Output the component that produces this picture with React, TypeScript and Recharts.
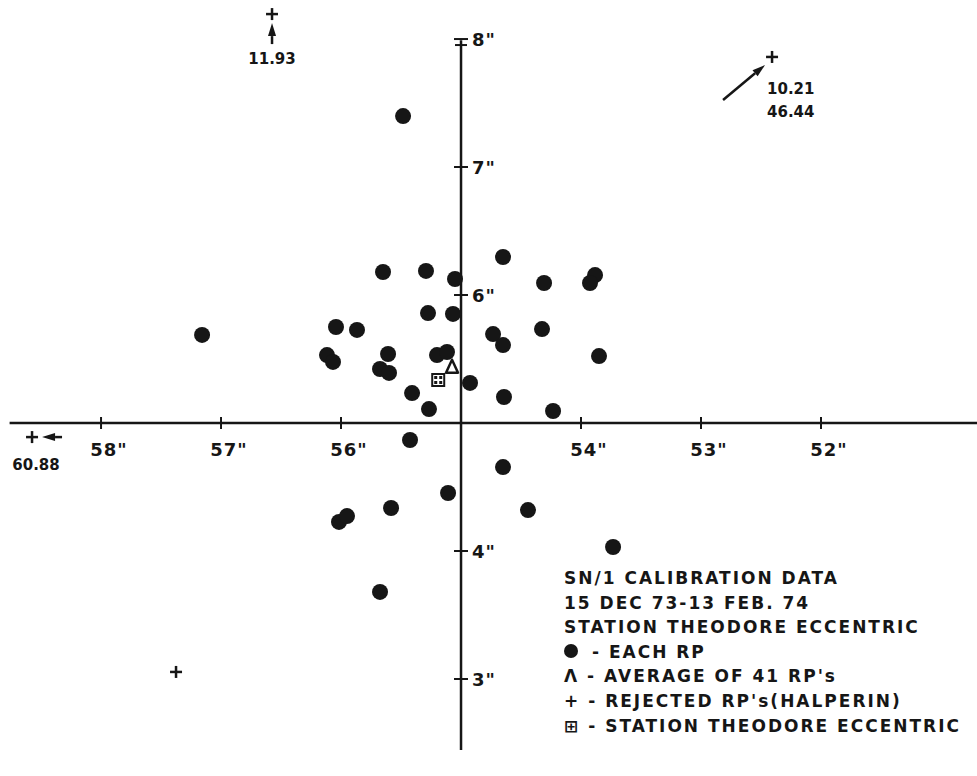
import { ReferenceDot, ReferenceLine, Scatter, ScatterChart, XAxis, YAxis } from "recharts";

// arc-second offsets, x axis runs right-to-left (58" .. 52"), y axis 3" .. 8"
const X_TICKS = [58, 57, 56, 54, 53, 52];
const Y_TICKS = [8, 7, 6, 4, 3];
const X_DOMAIN: [number, number] = [50.7, 58.842];
const Y_DOMAIN: [number, number] = [2.242, 8.305];
const AXIS_X = 55;
const AXIS_Y = 5;

const EACH_RP = [
  { x: 55.483, y: 7.398 },
  { x: 57.158, y: 5.688 },
  { x: 55.65, y: 6.18 },
  { x: 55.292, y: 6.188 },
  { x: 55.05, y: 6.125 },
  { x: 55.275, y: 5.859 },
  { x: 55.067, y: 5.852 },
  { x: 56.042, y: 5.75 },
  { x: 55.867, y: 5.727 },
  { x: 56.117, y: 5.531 },
  { x: 56.067, y: 5.477 },
  { x: 55.608, y: 5.539 },
  { x: 55.675, y: 5.422 },
  { x: 55.6, y: 5.391 },
  { x: 55.2, y: 5.531 },
  { x: 55.117, y: 5.555 },
  { x: 55.408, y: 5.234 },
  { x: 55.267, y: 5.109 },
  { x: 54.65, y: 6.297 },
  { x: 54.308, y: 6.094 },
  { x: 53.883, y: 6.156 },
  { x: 53.925, y: 6.094 },
  { x: 54.733, y: 5.695 },
  { x: 54.65, y: 5.609 },
  { x: 54.325, y: 5.734 },
  { x: 53.85, y: 5.523 },
  { x: 54.925, y: 5.313 },
  { x: 54.642, y: 5.203 },
  { x: 54.233, y: 5.094 },
  { x: 55.425, y: 4.867 },
  { x: 54.65, y: 4.656 },
  { x: 55.108, y: 4.453 },
  { x: 55.583, y: 4.336 },
  { x: 56.017, y: 4.227 },
  { x: 55.95, y: 4.273 },
  { x: 54.442, y: 4.32 },
  { x: 53.733, y: 4.031 },
  { x: 55.675, y: 3.68 },
];

const AVERAGE_RP = [{ x: 55.075, y: 5.44 }];
const STATION_ECC = [{ x: 55.19, y: 5.336 }];

// off-scale values are written next to the arrow
const REJECTED_RP = [
  { x: 56.575, y: 8.195, label: "11.93" },
  { x: 52.408, y: 7.86, label: "10.21\n46.44" },
  { x: 58.575, y: 4.89, label: "60.88" },
  { x: 57.375, y: 3.055, label: "" },
];

const LEGEND_TITLE = ["SN/1 CALIBRATION DATA", "15 DEC 73-13 FEB. 74", "STATION THEODORE ECCENTRIC"];

const INK = "#161616";
const FONT = "'DejaVu Sans', sans-serif";

const ARROWS: Record<string, { from: [number, number]; to: [number, number]; text: [number, number]; anchor: "start" | "middle" }> = {
  "11.93": { from: [0, 30], to: [0, 9], text: [0, 50], anchor: "middle" },
  "10.21\n46.44": { from: [-49, 43], to: [-7, 8], text: [-5, 37], anchor: "start" },
  "60.88": { from: [30, 0], to: [10, 0], text: [4, 33], anchor: "middle" },
};

const Dot = (p: any) => <circle cx={p.cx} cy={p.cy} r={8} fill={INK} />;

const Triangle = (p: any) => (
  <path
    d={`M${p.cx - 6},${p.cy + 6} L${p.cx},${p.cy - 7} L${p.cx + 6},${p.cy + 6} Z`}
    fill="#fff"
    stroke={INK}
    strokeWidth={2.5}
    strokeLinejoin="round"
  />
);

const Station = (p: any) => (
  <g>
    <rect x={p.cx - 6} y={p.cy - 6} width={12} height={12} fill="#fff" stroke={INK} strokeWidth={2} />
    {[-1, 1].map((i) =>
      [-1, 1].map((j) => (
        <rect key={`${i}${j}`} x={p.cx + i * 2.5 - 1.5} y={p.cy + j * 2.5 - 1.5} width={3} height={3} fill={INK} />
      ))
    )}
  </g>
);

const Rejected = (p: any) => {
  const { cx, cy, payload } = p;
  const a = ARROWS[payload.label];
  let arrow = null;
  if (a) {
    const [fx, fy] = a.from;
    const [tx, ty] = a.to;
    const len = Math.hypot(tx - fx, ty - fy);
    const ux = (tx - fx) / len;
    const uy = (ty - fy) / len;
    const bx = tx - ux * 13;
    const by = ty - uy * 13;
    arrow = (
      <g>
        <line x1={cx + fx} y1={cy + fy} x2={cx + bx} y2={cy + by} stroke={INK} strokeWidth={2.5} />
        <path
          d={`M${cx + tx},${cy + ty} L${cx + bx - uy * 4},${cy + by + ux * 4} L${cx + bx + uy * 4},${cy + by - ux * 4} Z`}
          fill={INK}
        />
        {payload.label.split("\n").map((t: string, i: number) => (
          <text
            key={t}
            x={cx + a.text[0]}
            y={cy + a.text[1] + i * 23}
            textAnchor={a.anchor}
            fontFamily={FONT}
            fontWeight="bold"
            fontSize={15}
            fill={INK}
          >
            {t}
          </text>
        ))}
      </g>
    );
  }
  return (
    <g>
      <line x1={cx - 6} y1={cy} x2={cx + 6} y2={cy} stroke={INK} strokeWidth={2.5} />
      <line x1={cx} y1={cy - 6} x2={cx} y2={cy + 6} stroke={INK} strokeWidth={2.5} />
      {arrow}
    </g>
  );
};

const XTick = (value: number) => (p: any) => (
  <g>
    <line x1={p.cx} y1={p.cy - 6} x2={p.cx} y2={p.cy + 6} stroke={INK} strokeWidth={2} />
    <text
      x={p.cx + 8}
      y={p.cy + 33}
      textAnchor="middle"
      fontFamily={FONT}
      fontWeight="bold"
      fontSize={18}
      letterSpacing={1}
      fill={INK}
    >
      {`${value}"`}
    </text>
  </g>
);

const YTick = (value: number) => (p: any) => (
  <g>
    <line x1={p.cx - 7} y1={p.cy} x2={p.cx + 7} y2={p.cy} stroke={INK} strokeWidth={2} />
    {value === 8 && <line x1={p.cx - 6} y1={p.cy + 6} x2={p.cx + 6} y2={p.cy + 6} stroke={INK} strokeWidth={2} />}
    <text x={p.cx + 11} y={p.cy + 7} fontFamily={FONT} fontWeight="bold" fontSize={18} letterSpacing={1} fill={INK}>
      {`${value}"`}
    </text>
  </g>
);

const LegendBlock = () => (
  <div
    style={{
      position: "absolute",
      left: 564,
      top: 566,
      fontFamily: FONT,
      fontWeight: "bold",
      fontSize: 17,
      lineHeight: "24.6px",
      letterSpacing: 2,
      color: INK,
      whiteSpace: "nowrap",
    }}
  >
    {LEGEND_TITLE.map((t) => (
      <div key={t}>{t}</div>
    ))}
    <div>
      <span style={{ display: "inline-block", width: 14, height: 14, borderRadius: 7, background: INK, marginRight: 6 }} /> - EACH RP
    </div>
    <div>Λ - AVERAGE OF 41 RP's</div>
    <div>+ - REJECTED RP's(HALPERIN)</div>
    <div>⊞ - STATION THEODORE ECCENTRIC</div>
  </div>
);

export default function App() {
  return (
    <div style={{ position: "absolute", left: 0, top: 0, width: 977, height: 776, background: "#fff", overflow: "hidden" }}>
      <ScatterChart width={977} height={776} margin={{ top: 0, right: 0, bottom: 0, left: 0 }}>
        <XAxis type="number" dataKey="x" domain={X_DOMAIN} reversed hide allowDataOverflow />
        <YAxis type="number" dataKey="y" domain={Y_DOMAIN} hide allowDataOverflow />
        <ReferenceLine
          segment={[
            { x: X_DOMAIN[1] - 0.08, y: AXIS_Y },
            { x: X_DOMAIN[0], y: AXIS_Y },
          ]}
          stroke={INK}
          strokeWidth={2.5}
        />
        <ReferenceLine
          segment={[
            { x: AXIS_X, y: 7.99 },
            { x: AXIS_X, y: 2.445 },
          ]}
          stroke={INK}
          strokeWidth={2.5}
        />
        {X_TICKS.map((t) => (
          <ReferenceDot key={`x${t}`} x={t} y={AXIS_Y} r={0} shape={XTick(t)} />
        ))}
        {Y_TICKS.map((t) => (
          <ReferenceDot key={`y${t}`} x={AXIS_X} y={t} r={0} shape={YTick(t)} />
        ))}
        <Scatter name="each RP" data={EACH_RP} shape={Dot} isAnimationActive={false} />
        <Scatter name="station" data={STATION_ECC} shape={Station} isAnimationActive={false} />
        <Scatter name="average" data={AVERAGE_RP} shape={Triangle} isAnimationActive={false} />
        <Scatter name="rejected" data={REJECTED_RP} shape={Rejected} isAnimationActive={false} />
      </ScatterChart>
      <LegendBlock />
    </div>
  );
}
